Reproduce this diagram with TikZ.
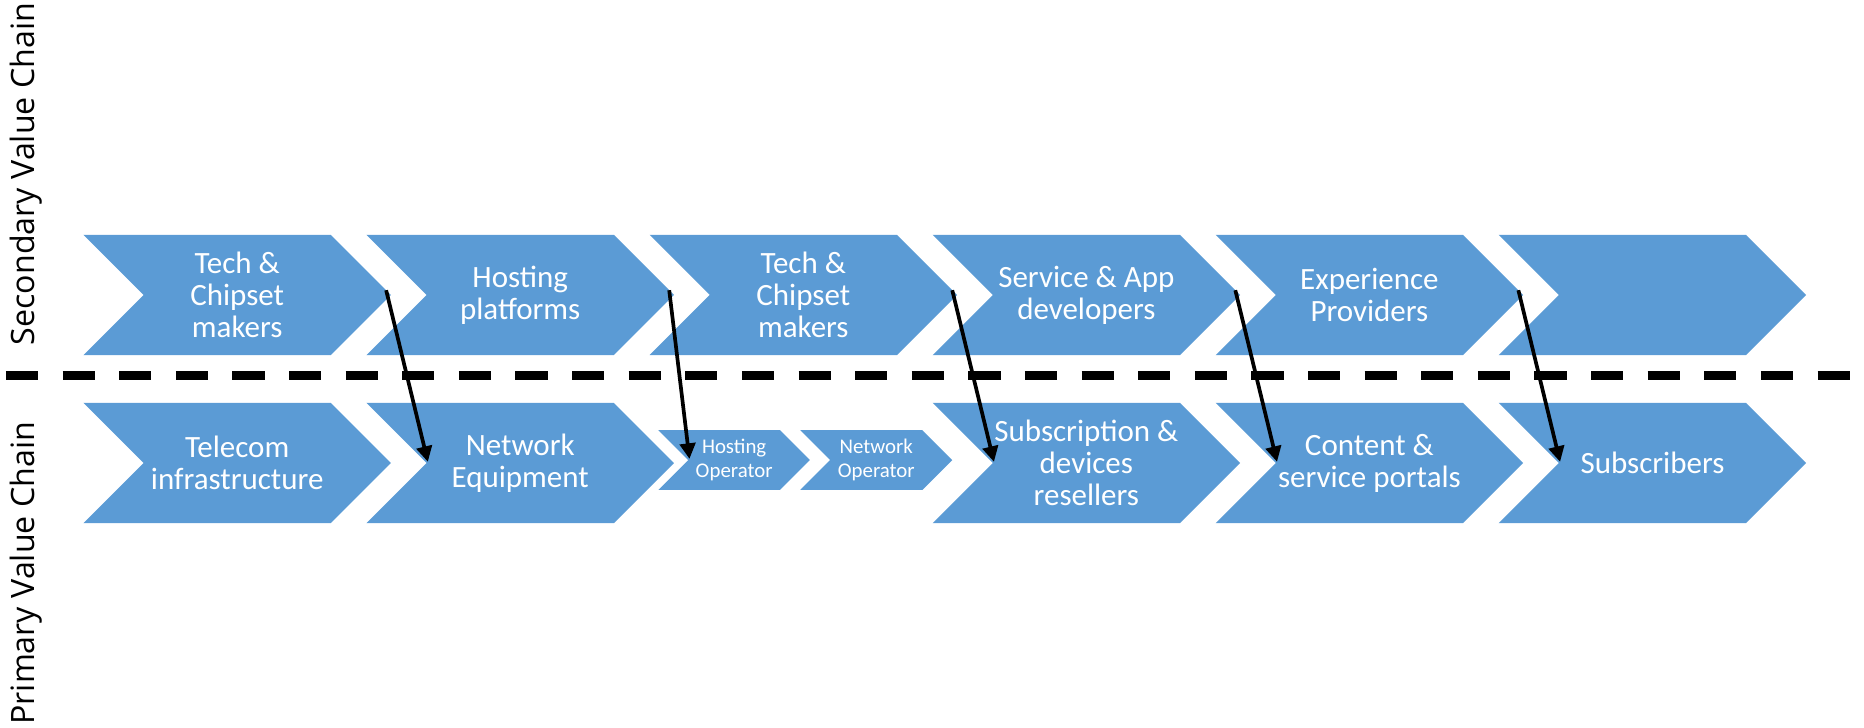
\documentclass[tikz,border=0pt]{standalone}
\usepackage{fontspec}
\setmainfont{Carlito}
\newfontfamily\labelfont{Open Sans}
\usetikzlibrary{arrows.meta}
\definecolor{chevblue}{HTML}{5B9BD5}
\tikzset{
  chevfill/.style={fill=chevblue},
  chevtext/.style={text=white, align=center, font=\fontsize{26}{27}\selectfont, inner sep=0pt},
  smalltext/.style={text=white, align=center, font=\fontsize{17.5}{20}\selectfont, inner sep=0pt},
  sidelabel/.style={rotate=90, font=\labelfont\fontsize{27}{30}\selectfont, inner sep=0pt},
  arr/.style={line width=3.1pt, -{Triangle[length=13pt,width=13pt]}},
  dashline/.style={line width=7pt, dash pattern=on 27pt off 20.5pt, dash phase=42.5pt}
}
% #1 name, #2 left x, #3 mid y, #4 width (left to tip), #5 half height, #6 style, #7 text
\newcommand{\chevron}[7]{%
  \fill[chevfill] (#2,#3-#5) -- ++(#4-#5,0) -- ++(#5,#5) -- ++(-#5,#5) -- (#2,#3+#5) -- ++(#5,-#5) -- cycle;
  \coordinate (#1-tip) at (#2+#4,#3);
  \coordinate (#1-notch) at (#2+#5+1,#3-1);
  \coordinate (#1-out) at (#2+#4-4,#3-4);
  \node[#6] (#1) at (#2+#4/2,#3) {#7};
}
\begin{document}
\begin{tikzpicture}[x=1pt,y=-1pt]
\useasboundingbox (0,0) rectangle (1564,610);
% top row
\chevron{t1}{70}{247.5}{258}{50.5}{chevtext}{Tech \&\\Chipset\\makers}
\chevron{t2}{307.5}{247.5}{258}{50.5}{chevtext}{Hosting\\platforms}
\chevron{t3}{545}{247.5}{258}{50.5}{chevtext}{Tech \&\\Chipset\\makers}
\chevron{t4}{782.5}{247.5}{258}{50.5}{chevtext}{Service \& App\\developers}
\chevron{t5}{1020}{247.5}{258}{50.5}{chevtext}{Experience\\Providers}
\chevron{t6}{1257.5}{247.5}{258}{50.5}{chevtext}{}
% bottom row
\chevron{b1}{70}{388.5}{258}{50.5}{chevtext}{Telecom\\infrastructure}
\chevron{b2}{307.5}{388.5}{258}{50.5}{chevtext}{Network\\Equipment}
\chevron{b3a}{552.5}{386}{127}{25}{smalltext}{Hosting\\Operator}
\chevron{b3b}{671.5}{386}{127.5}{25}{smalltext}{Network\\Operator}
\chevron{b4}{782.5}{388.5}{258}{50.5}{chevtext}{Subscription \&\\devices\\resellers}
\chevron{b5}{1020}{388.5}{258}{50.5}{chevtext}{Content \&\\service portals}
\chevron{b6}{1257.5}{388.5}{258}{50.5}{chevtext}{Subscribers}
% divider
\coordinate (dl-l) at (0,315);
\coordinate (dl-r) at (1564,315);
\draw[dashline] (dl-l) -- (dl-r);
% arrows
\draw[arr] (t1-out) -- (b2-notch);
\draw[arr] (t2-out) -- (b3a-notch);
\draw[arr] (t3-out) -- (b4-notch);
\draw[arr] (t4-out) -- (b5-notch);
\draw[arr] (t5-out) -- (b6-notch);
% side labels
\node[sidelabel] (sec) at (22,146) {Secondary Value Chain};
\node[sidelabel] (pri) at (22,481) {Primary Value Chain};
\end{tikzpicture}
\end{document}
